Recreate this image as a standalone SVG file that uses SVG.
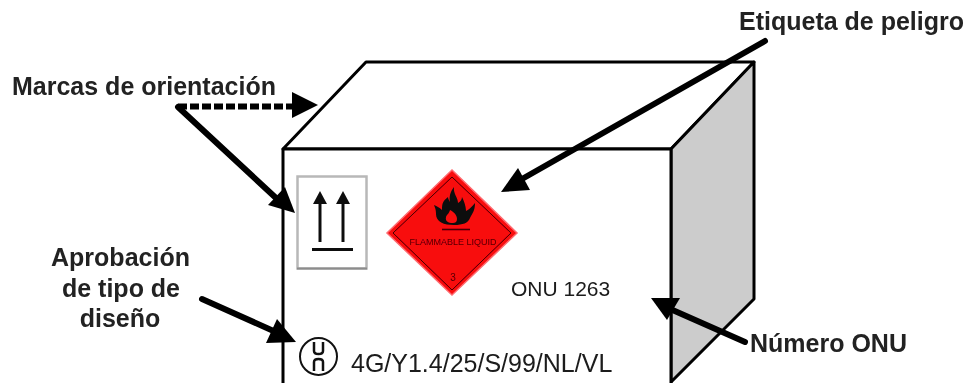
<svg xmlns="http://www.w3.org/2000/svg" width="968" height="383" viewBox="0 0 968 383">
<defs><filter id="soft" x="-5%" y="-20%" width="110%" height="140%"><feGaussianBlur stdDeviation="0.450"/></filter></defs>
<style>
.box{fill:#fff;stroke:#000;stroke-width:3;stroke-linejoin:round}
.side{fill:#ccc;stroke:#000;stroke-width:3;stroke-linejoin:round}
.lbl{font-family:"Liberation Sans",Arial,sans-serif;font-weight:bold;font-size:25px;fill:#222}
.reg{font-family:"Liberation Sans",Arial,sans-serif;font-size:21px;fill:#1a1a1a}
.shaft{stroke:#000;stroke-width:6;fill:none;stroke-linecap:round}
.mini{stroke:#111;stroke-width:3;fill:none}
</style>
<rect width="968" height="383" fill="#fff"/>
<g id="box">
<polygon class="box" points="283,149 366,62 754,62 671,149"/>
<polygon class="side" points="671,149 754,62 754,299 671,382"/>
<polyline class="box" points="283,383 283,149 671,149 671,383" style="fill:#fff"/>
</g>
<g id="orientation-label" filter="url(#soft)">
<rect x="297.500" y="176.500" width="69" height="92" fill="#fff" stroke="#b8b8b8" stroke-width="2.500"/>
<path d="M297 268.500H367" stroke="#8c8c8c" stroke-width="2"/>
<path class="mini" d="M320 200V242M343 200V242"/>
<path d="M320 191l-7 13h14zM343 191l-7 13h14z" fill="#111"/>
<path d="M312 249.500H353" stroke="#111" stroke-width="3"/>
</g>
<g id="hazard-label" filter="url(#soft)">
<polygon points="452,170 517,233 452,295 387,233" fill="#f8080f" stroke="#ff6a6f" stroke-width="1.500"/>
<polygon points="452,177 511,233 452,290 393,233" fill="none" stroke="#400" stroke-width="1"/>
<path d="M454 225c-10 0-18-3-18-11 0-5-1-6-2-9 3 1 6 3 8 5 0-7 1-9 6-13 0 2 1 3 2 5-1-5 0-10 4-15-1 7 4 10 4 16 2-1 4-3 4-6 3 6 4 11 4 14 2-1 6-4 9-8 0 8-3 11-5 15-2 5-7 7-16 7z" fill="#0a0a0a"/>
<path d="M453 223c-5 0-8-2-7-6 1-3 3-3 4-7 4 2 7 5 7 9 0 3-2 4-4 4z" fill="#f8080f"/>
<path d="M442 229.500H470" stroke="#400" stroke-width="1.500"/>
<text x="453" y="245" text-anchor="middle" font-family="Liberation Sans,Arial,sans-serif" font-size="9" fill="#500">FLAMMABLE LIQUID</text>
<text x="453" y="281" text-anchor="middle" font-family="Liberation Sans,Arial,sans-serif" font-size="10" fill="#500">3</text>
</g>
<g id="un-mark">
<circle cx="318.500" cy="356.500" r="18.500" fill="#fff" stroke="#111" stroke-width="2"/>
<path d="M314 342v9q0 3 4.500 3t4.500-3v-9" fill="none" stroke="#111" stroke-width="2.500"/>
<path d="M314 371v-9q0-3 4.500-3t4.500 3v9" fill="none" stroke="#111" stroke-width="2.500"/>
</g>
<g id="texts" filter="url(#soft)">
<text class="lbl" x="12" y="95">Marcas de orientación</text>
<text class="lbl" x="739" y="30">Etiqueta de peligro</text>
<text class="lbl" x="750" y="352">Número ONU</text>
<text class="lbl" x="120.500" y="266" text-anchor="middle">Aprobación</text>
<text class="lbl" x="121" y="297" text-anchor="middle">de tipo de</text>
<text class="lbl" x="120" y="327" text-anchor="middle">diseño</text>
<text class="reg" x="511" y="296">ONU 1263</text>
<text class="reg" x="351" y="372" style="font-size:25px">4G/Y1.4/25/S/99/NL/VL</text>
</g>
<g id="connectors">
<path class="shaft" d="M178 107L276 198"/>
<polygon points="295,213 268,205 285,187"/>
<path d="M178 106.500H294" stroke="#000" stroke-width="6" stroke-dasharray="9 3" fill="none"/>
<polygon points="318,105 292,92 292,118"/>
<path class="shaft" d="M765 41L522 179"/>
<polygon points="501,192 518,168 530,190"/>
<path class="shaft" d="M202 299L278 333"/>
<polygon points="296,342 266,343 277,319"/>
<path class="shaft" d="M745 342L668 308"/>
<polygon points="651,298 680,298 667,320"/>
</g>
</svg>
